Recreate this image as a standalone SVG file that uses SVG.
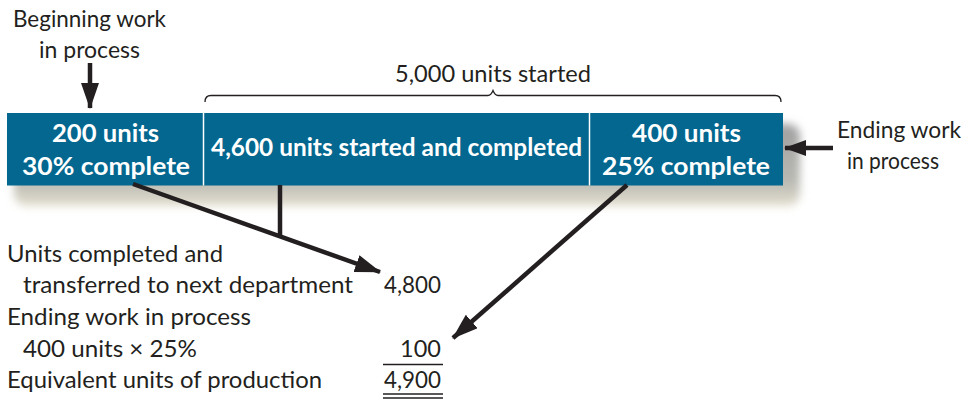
<svg xmlns="http://www.w3.org/2000/svg" width="971" height="401" viewBox="0 0 971 401">
<style>
.lbl{font-family:Lato,"Liberation Sans",sans-serif;font-size:23.5px;fill:#231f20}
.bx{font-family:Lato,"Liberation Sans",sans-serif;font-size:24px;font-weight:bold;fill:#fff}
.ln{stroke:#231f20;stroke-width:4.5;fill:none}
.thin{stroke:#231f20;stroke-width:1.3;fill:none}
.rule{stroke:#231f20;stroke-width:1.6}
</style>
<defs>
<marker id="ah" viewBox="0 0 26 18" refX="25" refY="9" markerWidth="26" markerHeight="18" markerUnits="userSpaceOnUse" orient="auto">
<path d="M0,0 L26,9 L0,18 Z" fill="#231f20"/>
</marker>
<marker id="ah2" viewBox="0 0 22 16" refX="21" refY="8" markerWidth="22" markerHeight="16" markerUnits="userSpaceOnUse" orient="auto">
<path d="M0,0 L22,8 L0,16 Z" fill="#231f20"/>
</marker>
<filter id="sh" x="-10%" y="-50%" width="120%" height="200%">
<feGaussianBlur stdDeviation="4"/>
</filter>
<linearGradient id="shg" x1="0" y1="0" x2="0" y2="1">
<stop offset="0" stop-color="#9fa0a0"/>
<stop offset="0.7" stop-color="#b9b9b3"/>
<stop offset="1" stop-color="#e4e0cf"/>
</linearGradient>
</defs>
<rect x="14" y="124" width="786" height="82" rx="12" fill="url(#shg)" filter="url(#sh)"/>
<g id="box">
<rect x="7" y="113" width="776" height="72.5" fill="#03678f"/>
<line x1="203.5" y1="113" x2="203.5" y2="185.5" stroke="#fff" stroke-width="1.5"/>
<line x1="589.5" y1="113" x2="589.5" y2="185.5" stroke="#fff" stroke-width="1.5"/>
</g>
<g id="beginning">
<text class="bx" x="52" y="142" textLength="107" lengthAdjust="spacingAndGlyphs">200 units</text>
<text class="bx" x="22" y="175" textLength="168" lengthAdjust="spacingAndGlyphs">30% complete</text>
</g>
<g id="started-completed">
<text class="bx" x="211" y="156" textLength="371" lengthAdjust="spacingAndGlyphs">4,600 units started and completed</text>
</g>
<g id="ending">
<text class="bx" x="632" y="142" textLength="109" lengthAdjust="spacingAndGlyphs">400 units</text>
<text class="bx" x="602" y="175" textLength="168" lengthAdjust="spacingAndGlyphs">25% complete</text>
</g>
<g id="label-beginning">
<text class="lbl" x="13" y="27" textLength="153" lengthAdjust="spacingAndGlyphs">Beginning work</text>
<text class="lbl" x="39" y="58" textLength="101" lengthAdjust="spacingAndGlyphs">in process</text>
</g>
<g id="label-ending">
<text class="lbl" x="837" y="138" textLength="124" lengthAdjust="spacingAndGlyphs">Ending work</text>
<text class="lbl" x="847" y="169" textLength="92" lengthAdjust="spacingAndGlyphs">in process</text>
</g>
<g id="brace">
<path class="thin" d="M205,102 Q205,95.5 211,95.5 L488,95.5 Q491,95.5 493,90.5 Q495,95.5 498,95.5 L775,95.5 Q781,95.5 781,102"/>
<text class="lbl" x="395" y="82" textLength="196" lengthAdjust="spacingAndGlyphs">5,000 units started</text>
</g>
<g id="connectors">
<line class="ln" x1="90" y1="63" x2="90" y2="108" marker-end="url(#ah)"/>
<line class="ln" x1="833" y1="148" x2="785" y2="148" marker-end="url(#ah2)"/>
<line class="ln" x1="133" y1="184" x2="380" y2="272" marker-end="url(#ah)"/>
<line class="ln" x1="280" y1="185" x2="280" y2="237"/>
<line class="ln" x1="627" y1="185" x2="453" y2="338" marker-end="url(#ah)"/>
</g>
<g id="table">
<text class="lbl" x="7" y="262" textLength="216" lengthAdjust="spacingAndGlyphs">Units completed and</text>
<text class="lbl" x="23" y="293" textLength="330" lengthAdjust="spacingAndGlyphs">transferred to next department</text>
<text class="lbl" x="384" y="293" textLength="57" lengthAdjust="spacingAndGlyphs">4,800</text>
<text class="lbl" x="7" y="325" textLength="244" lengthAdjust="spacingAndGlyphs">Ending work in process</text>
<text class="lbl" x="23" y="357" textLength="174" lengthAdjust="spacingAndGlyphs">400 units × 25%</text>
<text class="lbl" x="441" y="357" text-anchor="end">100</text>
<line class="rule" x1="383" y1="364.5" x2="443" y2="364.5"/>
<text class="lbl" x="7" y="388" textLength="315" lengthAdjust="spacingAndGlyphs">Equivalent units of production</text>
<text class="lbl" x="384" y="388" textLength="57" lengthAdjust="spacingAndGlyphs">4,900</text>
<line class="rule" x1="383" y1="394" x2="443" y2="394"/>
<line class="rule" x1="383" y1="398" x2="443" y2="398"/>
</g>
</svg>
